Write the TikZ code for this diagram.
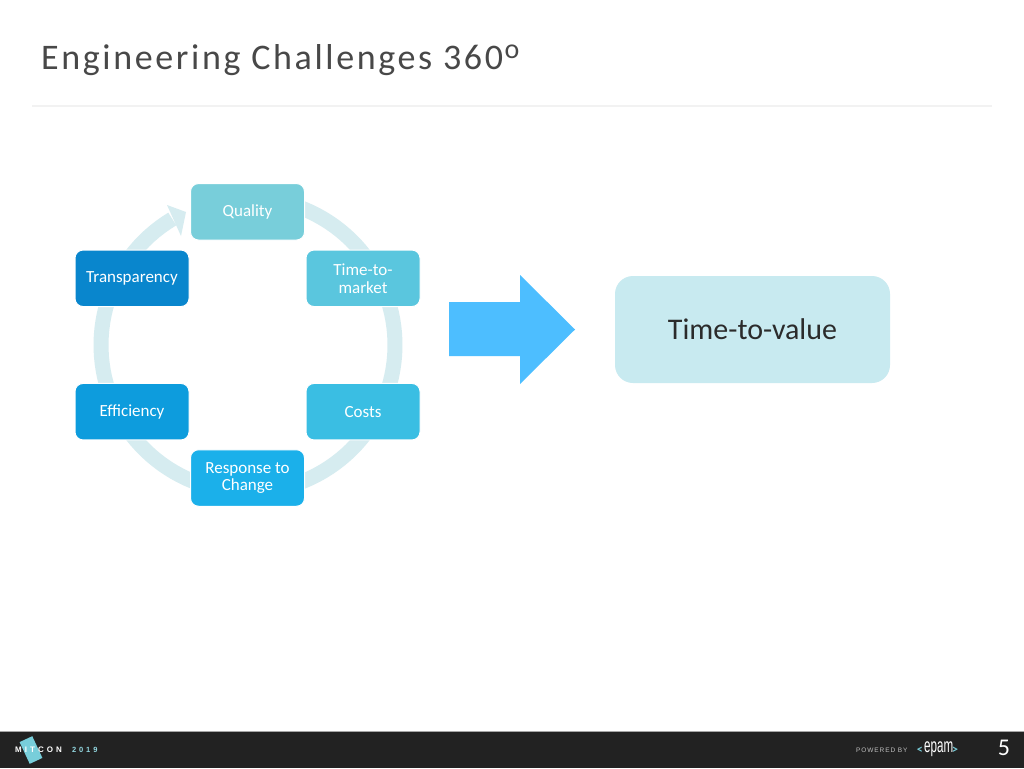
\documentclass[tikz,border=0pt]{standalone}
\usepackage{fontspec}
\setmainfont{Carlito}
\newfontfamily\titlefont[LetterSpace=7.3]{Carlito}
\newfontfamily\boxfont{Carlito}
\newfontfamily\logofont[LetterSpace=38]{Liberation Sans}
\newfontfamily\poweredfont[LetterSpace=14]{Liberation Sans}
\newfontfamily\epamfont[FakeStretch=0.58]{Liberation Sans}
\definecolor{ringc}{HTML}{D6ECF0}
\definecolor{qualityc}{HTML}{78CEDA}
\definecolor{timec}{HTML}{5AC6DE}
\definecolor{costsc}{HTML}{3ABEE3}
\definecolor{respc}{HTML}{1BB0EA}
\definecolor{effc}{HTML}{0D9CDD}
\definecolor{transc}{HTML}{0986CD}
\definecolor{arrowc}{HTML}{4DBEFF}
\definecolor{valuec}{HTML}{C8EAF0}
\definecolor{barc}{HTML}{222222}
\definecolor{titlec}{HTML}{484848}
\tikzset{
  cyclebox/.style={draw=white,line width=1pt,rounded corners=8pt,minimum width=114pt,minimum height=56.5pt,inner sep=0pt,
    text=white,align=center,font=\boxfont\fontsize{17}{18}\selectfont},
}
\begin{document}
\begin{tikzpicture}[x=1pt,y=-1pt]
\useasboundingbox (0,0) rectangle (1024,768);
\fill[white] (0,0) rectangle (1024,768);
% title
\node[anchor=base west,inner sep=0pt,text=titlec,font=\titlefont\fontsize{36}{40}\selectfont] (title) at (41,70) {Engineering Challenges 360\hspace{1.5pt}\raisebox{11pt}{\fontsize{28}{30}\selectfont o}};
\fill[black!5] (32,105) rectangle (992,107);
% ring
\draw[ringc,line width=15pt] plot[domain=-90:239,samples=120] ({248+147*cos(\x)},{345+147*sin(\x)});
\fill[ringc] (167,205) -- (186,212) -- (181,236) -- cycle;
% cycle boxes
\node[cyclebox,fill=qualityc] (quality) at (247.5,211.8) {\raisebox{-1pt}{Quality}};
\node[cyclebox,fill=timec] (market) at (363,278.3) {Time-to-\\market};
\node[cyclebox,fill=costsc] (costs) at (363,411.7) {Costs};
\node[cyclebox,fill=respc] (response) at (247.5,478) {\raisebox{-1pt}{Response to}\\\raisebox{-1pt}{Change}};
\node[cyclebox,fill=effc] (efficiency) at (132,411.7) {\raisebox{-0.5pt}{Efficiency}};
\node[cyclebox,fill=transc] (transparency) at (132,278.3) {Transparency};
% big arrow
\fill[arrowc] (449,302) -- (520,302) -- (520,275) -- (575,329.5) -- (520,384) -- (520,356) -- (449,356) -- cycle;
% result
\node[fill=valuec,rounded corners=18pt,minimum width=275pt,minimum height=107pt,inner sep=0pt,text=titlec!60!black,font=\fontsize{30}{32}\selectfont] (value) at (752.5,329.5) {\raisebox{1pt}{Time-to-value}};
% footer
\fill[black!35] (0,730.5) rectangle (1024,732);
\fill[barc] (0,732) rectangle (1024,768);
\fill[qualityc,rotate around={25:(31,750)}] (24,738) rectangle (38,762);
\node[anchor=west,inner sep=0pt,text=white,font=\logofont\bfseries\fontsize{8}{9}\selectfont] (mitcon) at (15,750) {MITCON};
\node[anchor=west,inner sep=0pt,text=qualityc!80!white,font=\logofont\bfseries\fontsize{7.5}{9}\selectfont] (year) at (72,750) {2019};
\node[anchor=west,inner sep=0pt,text=black!25,font=\poweredfont\fontsize{6.5}{8}\selectfont] (powered) at (856,750) {POWERED BY};
\node[anchor=west,inner sep=0pt,text=white,font=\epamfont\fontsize{20}{22}\selectfont] (epam) at (924,749) {epam};
\node[anchor=east,inner sep=0pt,text=qualityc,font=\bfseries\fontsize{12}{14}\selectfont] (ltag) at (923,750) {<};
\node[anchor=west,inner sep=0pt,text=qualityc,font=\bfseries\fontsize{12}{14}\selectfont] (rtag) at (952,750) {>};
\node[inner sep=0pt,text=white,font=\fontsize{24}{26}\selectfont] (page) at (1004,748) {5};
\end{tikzpicture}
\end{document}
